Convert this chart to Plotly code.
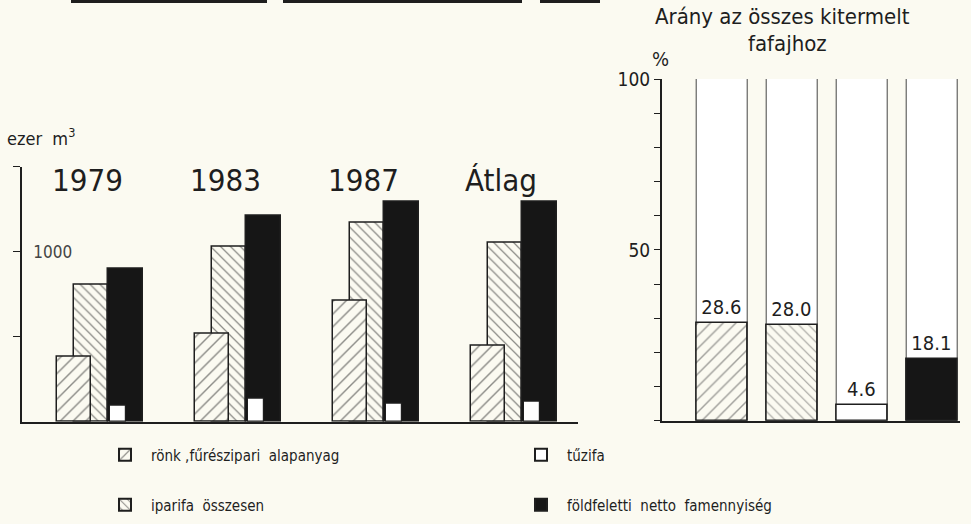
import plotly.graph_objects as go

# ---------------- data ----------------
evek = ["1979", "1983", "1987", "Átlag"]
ronk = [382, 517, 711, 447]            # rönk, fűrészipari alapanyag (ezer m3)
iparifa = [808, 1029, 1170, 1055]      # iparifa összesen
tuzifa = [94, 138, 108, 118]           # tűzifa
foldfeletti = [902, 1211, 1294, 1294]  # földfeletti netto famennyiség

arany_kat = ["rönk", "iparifa", "tűzifa", "földfeletti"]
arany = [28.6, 28.0, 4.6, 18.1]        # Arány az összes kitermelt fafajhoz (%)
teljes = [100, 100, 100, 100]

bal_tick_ertekek = [500, 1000, 1500]
bal_tick_szoveg = ["", "1000", ""]
jobb_tick_ertekek = [0, 10, 20, 30, 40, 50, 60, 70, 80, 90, 100]
jobb_tick_szoveg = ["", "", "", "", "", "50", "", "", "", "", "100"]

# ---------------- style ----------------
W, H = 971, 524
PAPER = "#fbfaf1"
INK = "#1e1e1e"
FONT = "Liberation Sans Narrow, DejaVu Sans Condensed, Arial Narrow, sans-serif"

def fx(px):
    return px / W

def fy(py):
    return (H - py) / H

fig = go.Figure()

# left panel bars (overlay, drawn back-to-front)
fig.add_trace(go.Bar(
    x=evek, y=iparifa, name="iparifa  összesen", xaxis="x", yaxis="y",
    width=0.246, offset=-0.188,
    marker=dict(color=PAPER, line=dict(color=INK, width=1.5),
                pattern=dict(shape="\\", fgcolor=INK, bgcolor=PAPER, size=7, solidity=0.18)),
    legend="legend2",
))
fig.add_trace(go.Bar(
    x=evek, y=ronk, name="rönk ,fűrészipari  alapanyag", xaxis="x", yaxis="y",
    width=0.246, offset=-0.312,
    marker=dict(color=PAPER, line=dict(color=INK, width=1.5),
                pattern=dict(shape="/", fgcolor=INK, bgcolor=PAPER, size=9, solidity=0.16)),
    legend="legend",
))
fig.add_trace(go.Bar(
    x=evek, y=foldfeletti, name="földfeletti  netto  famennyiség", xaxis="x", yaxis="y",
    width=0.254, offset=0.058,
    marker=dict(color="#161616", line=dict(color=INK, width=1.5)),
    legend="legend2",
))
fig.add_trace(go.Bar(
    x=evek, y=tuzifa, name="tűzifa", xaxis="x", yaxis="y",
    width=0.116, offset=0.072,
    marker=dict(color="#ffffff", line=dict(color=INK, width=1.2)),
    legend="legend",
))

# right panel: 100% columns and shares
fig.add_trace(go.Bar(
    x=arany_kat, y=teljes, xaxis="x2", yaxis="y2", showlegend=False,
    width=0.73, offset=-0.365,
    marker=dict(color="#ffffff", line=dict(color="#444444", width=1)),
    hoverinfo="skip",
))
mintak = ["/", "\\", "", ""]
szinek = [PAPER, PAPER, "#ffffff", "#161616"]
fig.add_trace(go.Bar(
    x=arany_kat, y=arany, xaxis="x2", yaxis="y2", showlegend=False,
    width=0.73, offset=-0.365,
    text=[f"{v:.1f}" for v in arany], textposition="outside",
    textfont=dict(size=20, color=INK, family=FONT),
    cliponaxis=False,
    marker=dict(color=szinek, line=dict(color=INK, width=1.6),
                pattern=dict(shape=mintak, fgcolor=INK, bgcolor=szinek,
                             size=[9, 7, 8, 8], solidity=0.16)),
))

# ---------------- layout ----------------
left_x0, left_x1 = 22, 578
base_left = 421.7
legend_common = dict(
    orientation="h", xanchor="left", yanchor="middle",
    entrywidth=359, entrywidthmode="pixels", bgcolor="rgba(0,0,0,0)",
    font=dict(size=15), itemsizing="constant", itemwidth=42,
)
fig.update_layout(
    width=W, height=H,
    margin=dict(l=0, r=0, t=0, b=0, pad=0, autoexpand=False),
    paper_bgcolor=PAPER, plot_bgcolor="rgba(0,0,0,0)",
    font=dict(family=FONT, color=INK, size=17),
    barmode="overlay",
    bargap=0,
    xaxis=dict(
        domain=[fx(left_x0), fx(left_x1)],
        range=[(left_x0 - 100) / 138, (left_x1 - 100) / 138],
        type="category", showline=True, linecolor=INK, linewidth=1.5,
        showticklabels=False, ticks="", showgrid=False, zeroline=False,
        anchor="y",
    ),
    yaxis=dict(
        domain=[fy(base_left), fy(base_left - 255)],
        range=[0, 1500],
        showline=True, linecolor=INK, linewidth=1.5,
        ticks="outside", ticklen=7, tickwidth=1.3, tickcolor=INK,
        tickvals=bal_tick_ertekek, ticktext=bal_tick_szoveg,
        ticklabelposition="inside", ticklabelstandoff=12, tickfont=dict(size=17),
        showgrid=False, zeroline=False, anchor="x",
    ),
    xaxis2=dict(
        domain=[fx(661.7), fx(960)],
        range=[(661.7 - 722.5) / 70, (960 - 722.5) / 70],
        type="category", showline=True, linecolor=INK, linewidth=1.5,
        showticklabels=False, ticks="", showgrid=False, zeroline=False,
        anchor="y2",
    ),
    yaxis2=dict(
        domain=[fy(420.7), fy(79)],
        range=[0, 100],
        showline=True, linecolor=INK, linewidth=1.5,
        ticks="outside", ticklen=6, tickwidth=1.2, tickcolor=INK,
        tickvals=jobb_tick_ertekek, ticktext=jobb_tick_szoveg,
        tickfont=dict(size=19),
        showgrid=False, zeroline=False, anchor="x2",
    ),
    legend=dict(x=fx(99), y=fy(455), **legend_common),
    legend2=dict(x=fx(99), y=fy(505), **legend_common),
)

# year labels above each group
for i, ev in enumerate(evek):
    fig.add_annotation(x=i, y=1420, xref="x", yref="y", text=ev, showarrow=False,
                       xshift=-13, font=dict(size=31, color=INK))

# texts
fig.add_annotation(x=fx(5), y=fy(137), xref="paper", yref="paper", xanchor="left",
                   yanchor="middle", text="ezer  m<sup>3</sup>", showarrow=False,
                   font=dict(size=18))
fig.add_annotation(x=fx(782), y=fy(16), xref="paper", yref="paper",
                   xanchor="center", yanchor="middle",
                   text="Arány az összes kitermelt", showarrow=False, font=dict(size=22))
fig.add_annotation(x=fx(787), y=fy(43), xref="paper", yref="paper",
                   xanchor="center", yanchor="middle",
                   text="fafajhoz", showarrow=False, font=dict(size=22))
fig.add_annotation(x=fx(660), y=fy(59), xref="paper", yref="paper",
                   xanchor="center", yanchor="middle",
                   text="%", showarrow=False, font=dict(size=20))

# decorative rules at the very top (print remnants)
for a, b in [(71, 267), (283, 522), (540, 600)]:
    fig.add_shape(type="rect", xref="paper", yref="paper", x0=fx(a), x1=fx(b),
                  y0=fy(3), y1=fy(0), fillcolor=INK, line=dict(width=0))

fig.write_html("out.html", config={"displayModeBar": False},
               post_script="document.body.style.margin='0';")
